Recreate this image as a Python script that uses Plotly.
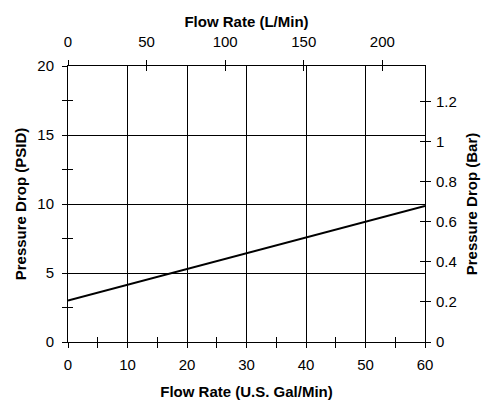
import plotly.graph_objects as go

# Data
flow_gpm = [0, 60]
pressure_psid = [3.0, 9.85]

GPM_TO_LPM = 3.785411784
PSI_TO_BAR = 0.0689476
x_max = 60
y_max = 20

x_ticks = [0, 10, 20, 30, 40, 50, 60]
y_ticks = [0, 5, 10, 15, 20]
lpm_ticks = [0, 50, 100, 150, 200]
bar_ticks = [0, 0.2, 0.4, 0.6, 0.8, 1, 1.2]

FONT = "Liberation Sans, Arial, sans-serif"
TICKF = dict(family=FONT, size=15, color="black")
TITLEF = dict(family=FONT, size=15, color="black")
TL = 5

fig = go.Figure()
fig.add_trace(go.Scatter(x=flow_gpm, y=pressure_psid, mode="lines",
                         line=dict(color="black", width=2), showlegend=False,
                         hoverinfo="skip"))
# helper invisible traces so the secondary axes are drawn
lpm = [v * GPM_TO_LPM for v in flow_gpm]
bar = [v * PSI_TO_BAR for v in pressure_psid]
fig.add_trace(go.Scatter(x=lpm, y=bar, xaxis="x2", yaxis="y2", mode="lines",
                         line=dict(width=0), opacity=0, showlegend=False, hoverinfo="skip"))
fig.add_trace(go.Scatter(x=flow_gpm, y=pressure_psid, xaxis="x3", yaxis="y3", mode="lines",
                         line=dict(width=0), opacity=0, showlegend=False, hoverinfo="skip"))
fig.add_trace(go.Scatter(x=lpm, y=bar, xaxis="x4", yaxis="y4", mode="lines",
                         line=dict(width=0), opacity=0, showlegend=False, hoverinfo="skip"))

common = dict(showline=True, linecolor="black", linewidth=1, zeroline=False,
              tickcolor="black", ticklen=TL, tickwidth=1, tickfont=TICKF,
              automargin=False)

fig.update_layout(
    width=483, height=392,
    margin=dict(l=60, r=66, t=58, b=58),
    paper_bgcolor="white", plot_bgcolor="white",
    xaxis=dict(range=[0, x_max], tickvals=x_ticks, ticks="outside", ticklabelstandoff=4,
               showgrid=True, gridcolor="black", gridwidth=1,
               minor=dict(dtick=5, ticks="outside", ticklen=TL, tickcolor="black", showgrid=False),
               title=dict(text="<b>Flow Rate (U.S. Gal/Min)</b>", font=TITLEF, standoff=21),
               **common),
    yaxis=dict(range=[0, y_max], tickvals=y_ticks, ticks="outside", ticklabelstandoff=5,
               showgrid=True, gridcolor="black", gridwidth=1,
               minor=dict(dtick=2.5, ticks="outside", ticklen=TL, tickcolor="black", showgrid=False),
               title=dict(text="<b>Pressure Drop (PSID)</b>", font=TITLEF, standoff=7),
               **common),
    xaxis2=dict(range=[0, x_max * GPM_TO_LPM], tickvals=lpm_ticks, ticks="outside",
                ticklabelstandoff=7,
                overlaying="x", side="top", anchor="y", showgrid=False,
                title=dict(text="<b>Flow Rate (L/Min)</b>", font=TITLEF, standoff=1),
                **common),
    yaxis2=dict(range=[0, y_max * PSI_TO_BAR], tickvals=bar_ticks, ticks="outside",
                ticklabelstandoff=2,
                overlaying="y", side="right", anchor="x", showgrid=False,
                title=dict(text="<b>Pressure Drop (Bar)</b>", font=TITLEF, standoff=10),
                **common),
    # inside ticks so tick marks cross the axis lines
    xaxis3=dict(range=[0, x_max], dtick=5, tick0=0, ticks="inside", ticklen=TL,
                tickcolor="black", overlaying="x", side="bottom", anchor="y3",
                showticklabels=False, showgrid=False, showline=False, zeroline=False),
    yaxis3=dict(range=[0, y_max], dtick=2.5, tick0=0, ticks="inside", ticklen=TL,
                tickcolor="black", overlaying="y", side="left", anchor="x3",
                showticklabels=False, showgrid=False, showline=False, zeroline=False),
    xaxis4=dict(range=[0, x_max * GPM_TO_LPM], tickvals=lpm_ticks, ticks="inside", ticklen=TL,
                tickcolor="black", overlaying="x", side="top", anchor="y4",
                showticklabels=False, showgrid=False, showline=False, zeroline=False),
    yaxis4=dict(range=[0, y_max * PSI_TO_BAR], tickvals=bar_ticks, ticks="inside", ticklen=TL,
                tickcolor="black", overlaying="y", side="right", anchor="x4",
                showticklabels=False, showgrid=False, showline=False, zeroline=False),
)

fig.write_html("out.html")
